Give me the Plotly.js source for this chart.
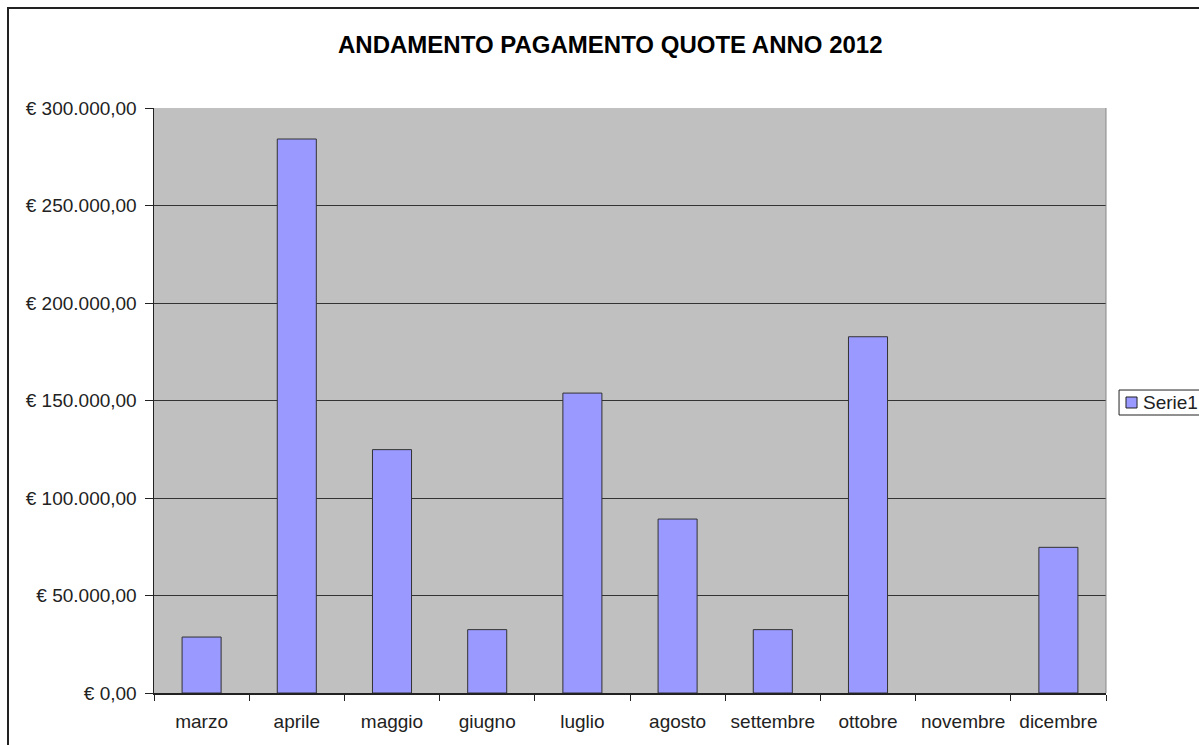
<!DOCTYPE html>
<html>
<head>
<meta charset="utf-8">
<script src="https://cdn.plot.ly/plotly-3.0.1.min.js"></script>
<style>
html,body{margin:0;padding:0;background:#fff;overflow:hidden;}
#frame{position:absolute;left:7px;top:7px;width:1300px;height:1000px;border-left:2px solid #222;border-top:2px solid #222;pointer-events:none;z-index:10;}
#chart{width:1199px;height:745px;}
</style>
</head>
<body>
<div id="frame"></div>
<div id="chart"></div>
<script>
const months = ["marzo","aprile","maggio","giugno","luglio","agosto","settembre","ottobre","novembre","dicembre"];
const serie1 = [28700, 284100, 124800, 32500, 153800, 89200, 32500, 182700, 0, 74700];
const seriesName = "Serie1";
const yTickVals = [0, 50000, 100000, 150000, 200000, 250000, 300000];
const yTickText = ["€ 0,00","€ 50.000,00","€ 100.000,00","€ 150.000,00","€ 200.000,00","€ 250.000,00","€ 300.000,00"];

const font = "Liberation Sans, Arial, sans-serif";
const barColor = "#9999ff";
Plotly.newPlot("chart", [{
  type: "bar",
  name: seriesName,
  x: months,
  y: serie1,
  marker: {color: barColor, line: {color: "#333333", width: serie1.map(v => v > 0 ? 1 : 0)}},
  showlegend: false
}], {
  width: 1199, height: 745,
  margin: {l: 154, r: 93, t: 108, b: 52, pad: 0, autoexpand: false},
  paper_bgcolor: "#ffffff",
  plot_bgcolor: "#c0c0c0",
  bargap: 0.59,
  title: {text: "<b>ANDAMENTO PAGAMENTO QUOTE ANNO 2012</b>", x: 0.509, xanchor: "center", y: 0.94, yanchor: "middle", font: {family: font, size: 24, color: "#000"}},
  font: {family: font, size: 19, color: "#222"},
  xaxis: {
    type: "category",
    tickson: "boundaries",
    ticks: "outside", ticklen: 6, tickcolor: "#222", tickwidth: 1,
    ticklabelstandoff: 11,
    showline: true, linecolor: "#222", linewidth: 1.5,
    showgrid: false, zeroline: false,
    tickfont: {family: font, size: 19, color: "#222"},
    fixedrange: true
  },
  yaxis: {
    range: [0, 300000],
    tickvals: yTickVals, ticktext: yTickText,
    ticks: "outside", ticklen: 8, tickcolor: "#222", tickwidth: 1,
    ticklabelstandoff: 4,
    showline: true, linecolor: "#222", linewidth: 1.5,
    showgrid: true, gridcolor: "#333333", gridwidth: 1,
    zeroline: false,
    tickfont: {family: font, size: 19, color: "#222"},
    fixedrange: true
  },
  showlegend: false,
  shapes: [
    {type: "line", xref: "paper", yref: "paper", x0: 1, x1: 1, y0: 0, y1: 1, line: {color: "#888", width: 1}},
    {type: "rect", xref: "paper", yref: "paper", x0: 1.0137, x1: 1.12, y0: 0.4752, y1: 0.5179, fillcolor: "#ffffff", line: {color: "#222", width: 1}},
    {type: "rect", xref: "paper", yref: "paper", x0: 1.0210, x1: 1.0326, y0: 0.4872, y1: 0.5060, fillcolor: barColor, line: {color: "#222", width: 1}}
  ],
  annotations: [
    {text: seriesName, xref: "paper", yref: "paper", x: 1.0368, y: 0.4966, xanchor: "left", yanchor: "middle", showarrow: false, font: {family: font, size: 19, color: "#222"}}
  ]
}, {displayModeBar: false, staticPlot: true});
</script>
</body>
</html>
